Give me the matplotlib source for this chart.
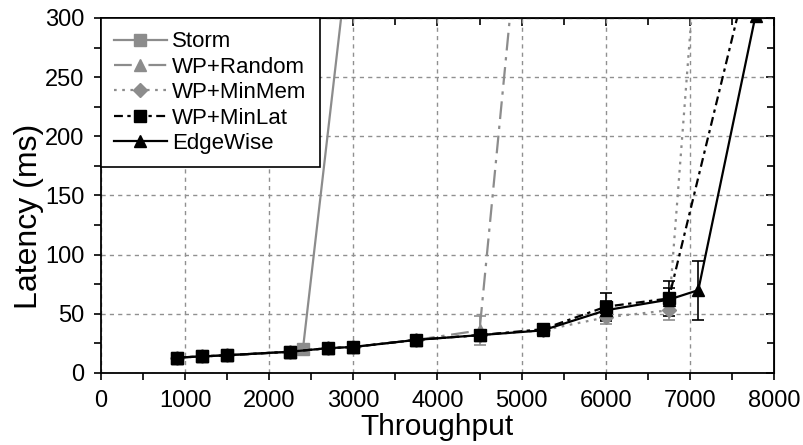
import matplotlib
matplotlib.use("Agg")
import matplotlib.pyplot as plt
from matplotlib.ticker import MultipleLocator

plt.rcParams['font.family'] = ['Liberation Sans', 'DejaVu Sans']

# ---------------- data ----------------
storm_x = [900, 1200, 1500, 2250, 2400, 3000]
storm_y = [13, 14, 15, 18, 20, 390]
storm_err = [1.5, 1.5, 1.5, 2, 2, 0]

random_x = [900, 1200, 1500, 2250, 2700, 3000, 3750, 4500, 5250]
random_y = [13, 14, 15, 18, 21, 22, 28, 36, 586]
random_err = [1.5, 1.5, 1.5, 2, 2, 2, 3, 12, 0]

minmem_x = [900, 1200, 1500, 2250, 2700, 3000, 3750, 4500, 5250, 6000, 6750, 7050]
minmem_y = [13, 14, 15, 18, 21, 22, 28, 32, 36, 47, 53, 330]
minmem_err = [1.5, 1.5, 1.5, 2, 2, 2, 3, 3, 3, 6, 8, 0]

minlat_x = [900, 1200, 1500, 2250, 2700, 3000, 3750, 4500, 5250, 6000, 6750, 7650]
minlat_y = [13, 14, 15, 18, 21, 22, 28, 32, 37, 56, 63, 326]
minlat_err = [2, 2, 2, 2.5, 3, 3, 3.5, 4, 4, 12, 15, 0]

edge_x = [900, 1200, 1500, 2250, 2700, 3000, 3750, 4500, 5250, 6000, 6750, 7100, 7780]
edge_y = [13, 14, 15, 18, 21, 22, 28, 32, 36, 53, 62, 70, 302]
edge_err = [2, 2, 2, 2.5, 3, 3, 3.5, 3.5, 4, 8, 10, 25, 0]

gray = '#8c8c8c'

fig = plt.figure(figsize=(8.04, 4.45), dpi=100)
ax = fig.add_axes([0.1256, 0.1618, 0.8371, 0.7978])

common = dict(linewidth=1.6, markersize=8, capsize=4, elinewidth=1.2, capthick=1.2)

c1 = ax.errorbar(storm_x, storm_y, yerr=storm_err, color=gray, linestyle='-', marker='s',
                 label='Storm', **common)
c2 = ax.errorbar(random_x, random_y, yerr=random_err, color=gray, linestyle=(0, (8, 3, 1.5, 3)),
                 marker='^', label='WP+Random', **common)
c3 = ax.errorbar(minmem_x, minmem_y, yerr=minmem_err, color=gray, linestyle=(0, (1.2, 2.5)),
                 marker='D', label='WP+MinMem', **dict(common, markersize=7))
c4 = ax.errorbar(minlat_x, minlat_y, yerr=minlat_err, color='black', linestyle=(0, (4, 2, 1.5, 2)),
                 marker='s', label='WP+MinLat', **common)
c5 = ax.errorbar(edge_x, edge_y, yerr=edge_err, color='black', linestyle='-', marker='^',
                 label='EdgeWise', **common)

ax.set_xlim(0, 8000)
ax.set_ylim(0, 300)
ax.xaxis.set_major_locator(MultipleLocator(1000))
ax.xaxis.set_minor_locator(MultipleLocator(500))
ax.yaxis.set_major_locator(MultipleLocator(50))
ax.yaxis.set_minor_locator(MultipleLocator(25))
ax.grid(True, which='major', color='#909090', linestyle=(0, (3, 3)), linewidth=1)

ax.tick_params(which='both', direction='out', labelsize=17, width=1.2, pad=7)
ax.tick_params(which='major', length=5)
ax.tick_params(which='minor', length=5)

# inward ticks on top and right, no labels
top = ax.secondary_xaxis('top')
top.xaxis.set_major_locator(MultipleLocator(1000))
top.xaxis.set_minor_locator(MultipleLocator(500))
top.tick_params(which='both', direction='in', labeltop=False, width=1.2)
top.tick_params(which='major', length=6)
top.tick_params(which='minor', length=5)
right = ax.secondary_yaxis('right')
right.yaxis.set_major_locator(MultipleLocator(50))
right.yaxis.set_minor_locator(MultipleLocator(25))
right.tick_params(which='both', direction='in', labelright=False, width=1.2)
right.tick_params(which='major', length=6)
right.tick_params(which='minor', length=5)

for s in ax.spines.values():
    s.set_linewidth(1.3)

ax.set_xlabel('Throughput', fontsize=21.5, labelpad=1)
ax.set_ylabel('Latency (ms)', fontsize=23, labelpad=1, y=0.44)

handles = [c[0] for c in (c1, c2, c3, c4, c5)]
labels = ['Storm', 'WP+Random', 'WP+MinMem', 'WP+MinLat', 'EdgeWise']
leg = ax.legend(handles, labels, loc='upper left', bbox_to_anchor=(0.0, 1.0), borderaxespad=0.0,
                fontsize=16, handlelength=2.35, labelspacing=0.2, fancybox=False,
                framealpha=1, edgecolor='black', handletextpad=0.25, borderpad=0.6)
leg.get_frame().set_linewidth(1.2)

fig.savefig('out.png', dpi=100)
